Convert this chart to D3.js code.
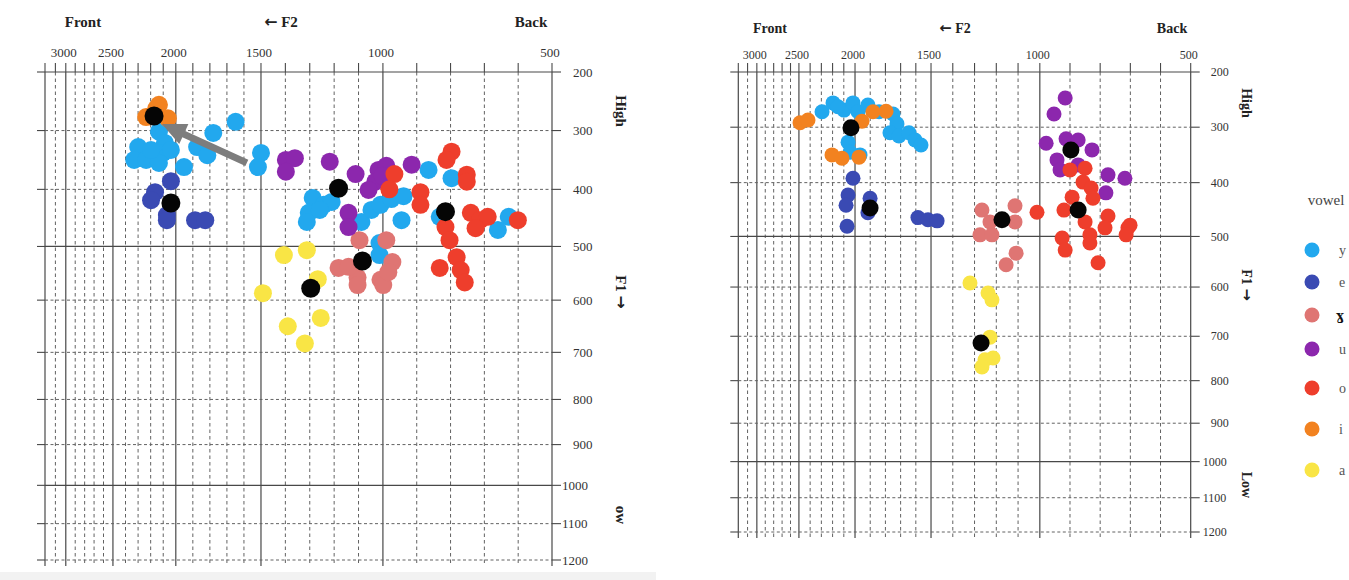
<!DOCTYPE html>
<html><head><meta charset="utf-8">
<script src="https://cdn.jsdelivr.net/npm/d3@7"></script>
<style>body{margin:0;background:#fff}svg{display:block}</style>
</head><body>
<svg id="c" width="1349" height="580"></svg>
<script>
// ---------- data ----------
const vowels = ["y","e","ɣ","u","o","i","a"];
const vowelColors = ["#22a8ee","#3a4ab3","#df7573","#8c27ad","#ee3e2c","#f28220","#f9e545"];
const f2Ticks = [3000,2500,2000,1500,1000,500];
const f1Ticks = [200,300,400,500,600,700,800,900,1000,1100,1200];

// left chart: [F2, F1] in Hz
const L_y = [[2134,302],[2087,321],[2299,328],[2331,350],[2236,350],[2102,338],[2039,333],[2134,355],[1952,362],[1875,328],[1815,342],[1780,304],[1649,285],[1500,338],[1518,362],[2197,333],[1288,415],[1243,427],[1304,441],[1210,422],[1312,457],[1259,436],[1088,457],[1047,436],[1010,427],[975,417],[939,412],[945,454],[1014,494],[1014,516],[865,367],[797,381],[832,448],[660,471],[628,448]];
const L_e = [[2165,405],[2039,386],[2197,419],[2071,445],[2071,454],[1887,454],[1827,454]];
const L_gamma = [[1096,489],[990,489],[1182,540],[1104,558],[1104,572],[1010,562],[999,572],[972,529],[984,548],[1141,538]];
const L_u = [[1398,350],[1361,347],[1398,370],[1218,353],[1112,374],[1018,367],[990,360],[1031,387],[1059,401],[915,358],[1141,441],[1141,466],[1002,377]];
const L_o = [[797,336],[812,350],[752,375],[752,387],[966,374],[981,400],[889,405],[889,427],[815,466],[803,489],[740,441],[713,454],[690,448],[726,468],[601,454],[782,520],[770,544],[832,540],[758,567]];
const L_i = [[2134,256],[2236,277],[2063,279],[2157,263]];
const L_a = [[1406,516],[1312,507],[1492,587],[1267,561],[1255,634],[1390,650],[1320,683]];
const L_means = [[2173,275],[2039,424],[1182,398],[815,439],[1084,527],[1296,578]];
const L_arrow = [[1583,355],[2110,289]];

// right chart: [F2, F1] in Hz
const R_y = [[2294,272],[2196,256],[2098,269],[2018,256],[1980,272],[1915,260],[1842,272],[1750,276],[1724,294],[1770,310],[1711,316],[1645,310],[1605,323],[1566,332],[2062,327],[2044,345],[1967,350],[2152,263]];
const R_e = [[2018,392],[2062,423],[2080,442],[2071,481],[1901,429],[1915,456],[1586,465],[1520,469],[1472,471]];
const R_gamma = [[1266,451],[1229,473],[1275,497],[1220,497],[1114,443],[1114,473],[1109,533],[1155,556]];
const R_u = [[916,247],[953,276],[979,329],[913,321],[873,323],[827,341],[943,359],[933,377],[873,368],[774,386],[718,392],[781,419]];
const R_o = [[900,377],[850,374],[857,399],[830,410],[893,427],[824,429],[1013,455],[920,451],[850,473],[834,497],[774,462],[784,484],[926,503],[916,527],[834,513],[807,552],[708,484],[701,479],[714,497]];
const R_i = [[2490,292],[2419,287],[1954,289],[1882,272],[1796,271],[2205,350],[2116,356],[1974,354]];
const R_a = [[1321,592],[1238,612],[1220,626],[1229,702],[1215,749],[1252,753],[1266,769]];
const R_means = [[2036,301],[1901,447],[1174,469],[897,341],[873,451],[1270,715]];

// ---------- chart paper geometry (non-uniform printed grid) ----------
const F2_BREAKS = [3200,3000,2500,2000,1500,1000,500];
const F2_FRAC = [0,.041,.134,.258,.426,.6665,1];
const F1_FRAC = [0,.12,.2405,.3575,.4675,.5745,.671,.7635,.847,.9255,1];

const svg = d3.select("#c");
const color = d3.scaleOrdinal().domain(vowels).range(vowelColors);
const SERIF = "'Liberation Serif','Times New Roman',serif";
const ARROWF = "'DejaVu Sans',sans-serif";

// light strip under the left picture
svg.append("rect").attr("x",0).attr("y",572).attr("width",656).attr("height",8).attr("fill","#f2f2f2");

function richText(sel, t){
  // render arrows with a font that has bold arrow glyphs
  const parts = t.split(/([←→])/).filter(s=>s.length);
  parts.forEach(p=>{
    const ts = sel.append("tspan").text(p);
    if(p==="←"||p==="→") ts.attr("font-family",ARROWF).attr("font-size","1.05em");
  });
}

function panel(cfg, sets, means, arrow){
  const g = svg.append("g");
  const x = d3.scaleLinear().domain(F2_BREAKS).range(F2_FRAC.map(f=>cfg.x0+f*(cfg.x1-cfg.x0)));
  const y = d3.scaleLinear().domain(f1Ticks).range(F1_FRAC.map(f=>cfg.y0+f*(cfg.y1-cfg.y0)));
  const y0 = y(200), y1 = y(1200), x0 = x(3200), x1 = x(500);
  const solidC = "#484848", dashC = "#626262";

  // vertical grid
  const vlines = d3.range(3100, 500, -100).concat([3200, 500]);
  vlines.forEach(v=>{
    const solid = (v % 500 === 0) || v === 3200;
    const xx = x(v);
    g.append("line").attr("x1",xx).attr("x2",xx).attr("y1",y0-9).attr("y2",y0)
      .attr("stroke",solidC).attr("stroke-width",1.1);
    g.append("line").attr("x1",xx).attr("x2",xx).attr("y1",y0).attr("y2",y1+6)
      .attr("stroke",solid?solidC:dashC).attr("stroke-width",solid?1.2:1)
      .attr("stroke-dasharray",solid?null:"3.5,3");
  });
  // horizontal grid
  f1Ticks.forEach(v=>{
    const solid = v===200 || v===500 || v===1000;
    const yy = y(v);
    g.append("line").attr("x1",x0-8).attr("x2",x0).attr("y1",yy).attr("y2",yy)
      .attr("stroke",solidC).attr("stroke-width",1.1);
    g.append("line").attr("x1",x1).attr("x2",x1+9).attr("y1",yy).attr("y2",yy)
      .attr("stroke",solidC).attr("stroke-width",1.1);
    g.append("line").attr("x1",x0).attr("x2",x1).attr("y1",yy).attr("y2",yy)
      .attr("stroke",solid?solidC:dashC).attr("stroke-width",solid?1.2:1)
      .attr("stroke-dasharray",solid?null:"3,2.5");
  });

  // F2 tick labels
  g.selectAll(".f2t").data(f2Ticks).enter().append("text")
    .attr("x",d=>x(d)-2).attr("y",y0-cfg.tickGap)
    .attr("text-anchor","middle").attr("font-family",SERIF).attr("font-size",cfg.fs)
    .attr("fill","#333").text(d=>d);
  // F1 tick labels
  g.selectAll(".f1t").data(f1Ticks).enter().append("text")
    .attr("x",d=>x1+(d>=1000?cfg.lab4:cfg.lab3)).attr("y",d=>y(d)).attr("dy","0.35em")
    .attr("font-family",SERIF).attr("font-size",cfg.fs).attr("fill","#333").text(d=>d);

  // headers
  [["Front",cfg.front],["← F2",cfg.f2],["Back",cfg.back]].forEach(([t,xx])=>{
    const tx = g.append("text").attr("x",xx).attr("y",cfg.headY).attr("text-anchor","middle")
      .attr("font-family",SERIF).attr("font-weight","bold").attr("font-size",cfg.hfs)
      .attr("fill","#222");
    richText(tx, t);
  });
  // rotated side labels
  cfg.side.forEach(([t,yy])=>{
    const tx = g.append("text").attr("transform",`translate(${cfg.sideX},${yy}) rotate(90)`)
      .attr("text-anchor","middle").attr("dy","0.35em")
      .attr("font-family",SERIF).attr("font-weight","bold").attr("font-size",cfg.hfs)
      .attr("fill","#222");
    richText(tx, t);
  });

  // points
  sets.forEach(([v,pts])=>{
    g.selectAll(null).data(pts).enter().append("circle")
      .attr("cx",d=>x(d[0])).attr("cy",d=>y(d[1])).attr("r",cfg.r)
      .attr("fill",color(v));
  });
  // arrow
  if(arrow){
    const [a,b] = arrow.map(d=>[x(d[0]),y(d[1])]);
    const ang = Math.atan2(b[1]-a[1], b[0]-a[0]);
    const L = Math.hypot(b[0]-a[0], b[1]-a[1]);
    const hl = 24, hw = 11, sw = 3.5;
    const pts = [[0,-sw],[L-hl,-sw],[L-hl,-hw],[L,0],[L-hl,hw],[L-hl,sw],[0,sw]];
    g.append("path")
      .attr("d", d3.line()(pts))
      .attr("transform",`translate(${a[0]},${a[1]}) rotate(${ang*180/Math.PI})`)
      .attr("fill","#7d7d7d");
  }
  // means
  g.selectAll(null).data(means).enter().append("circle")
    .attr("cx",d=>x(d[0])).attr("cy",d=>y(d[1])).attr("r",cfg.rm).attr("fill","#050505");
}

panel({x0:45,x1:552,y0:72,y1:560,r:9,rm:9.5,fs:13,hfs:15,tickGap:15,lab3:21,lab4:10,
       headY:27,front:83,f2:281,back:531,sideX:621,
       side:[["High",111],["F1 →",292],["ow",515]]},
  [["y",L_y],["e",L_e],["ɣ",L_gamma],["u",L_u],["o",L_o],["i",L_i],["a",L_a]],
  L_means, L_arrow);

panel({x0:738.3,x1:1190.7,y0:72,y1:532,r:7.5,rm:8.5,fs:12,hfs:14,tickGap:13,lab3:20,lab4:12,
       headY:33,front:770,f2:955,back:1172,sideX:1247,
       side:[["High",103],["F1 →",285],["Low",485]]},
  [["y",R_y],["e",R_e],["ɣ",R_gamma],["u",R_u],["o",R_o],["i",R_i],["a",R_a]],
  R_means, null);

// legend
const legY = [250,282,315,349,388,429,470];
svg.append("text").attr("x",1326).attr("y",200).attr("dy","0.35em").attr("text-anchor","middle")
  .attr("font-family",SERIF).attr("font-size",15).attr("fill","#444").text("vowel");
const lg = svg.append("g").selectAll("g").data(vowels).enter().append("g")
  .attr("transform",(d,i)=>`translate(1312,${legY[i]})`);
lg.append("circle").attr("r",7.5).attr("fill",d=>color(d));
lg.append("text").attr("x",d=>d==="ɣ"?24:27).attr("dy","0.35em")
  .attr("font-family",d=>d==="ɣ"?"'DejaVu Serif',serif":SERIF).attr("font-size",d=>d==="ɣ"?13:14)
  .attr("font-weight",d=>d==="ɣ"?"bold":"normal")
  .attr("fill",d=>d==="ɣ"?"#111":"#555").text(d=>d);
</script>
</body></html>
